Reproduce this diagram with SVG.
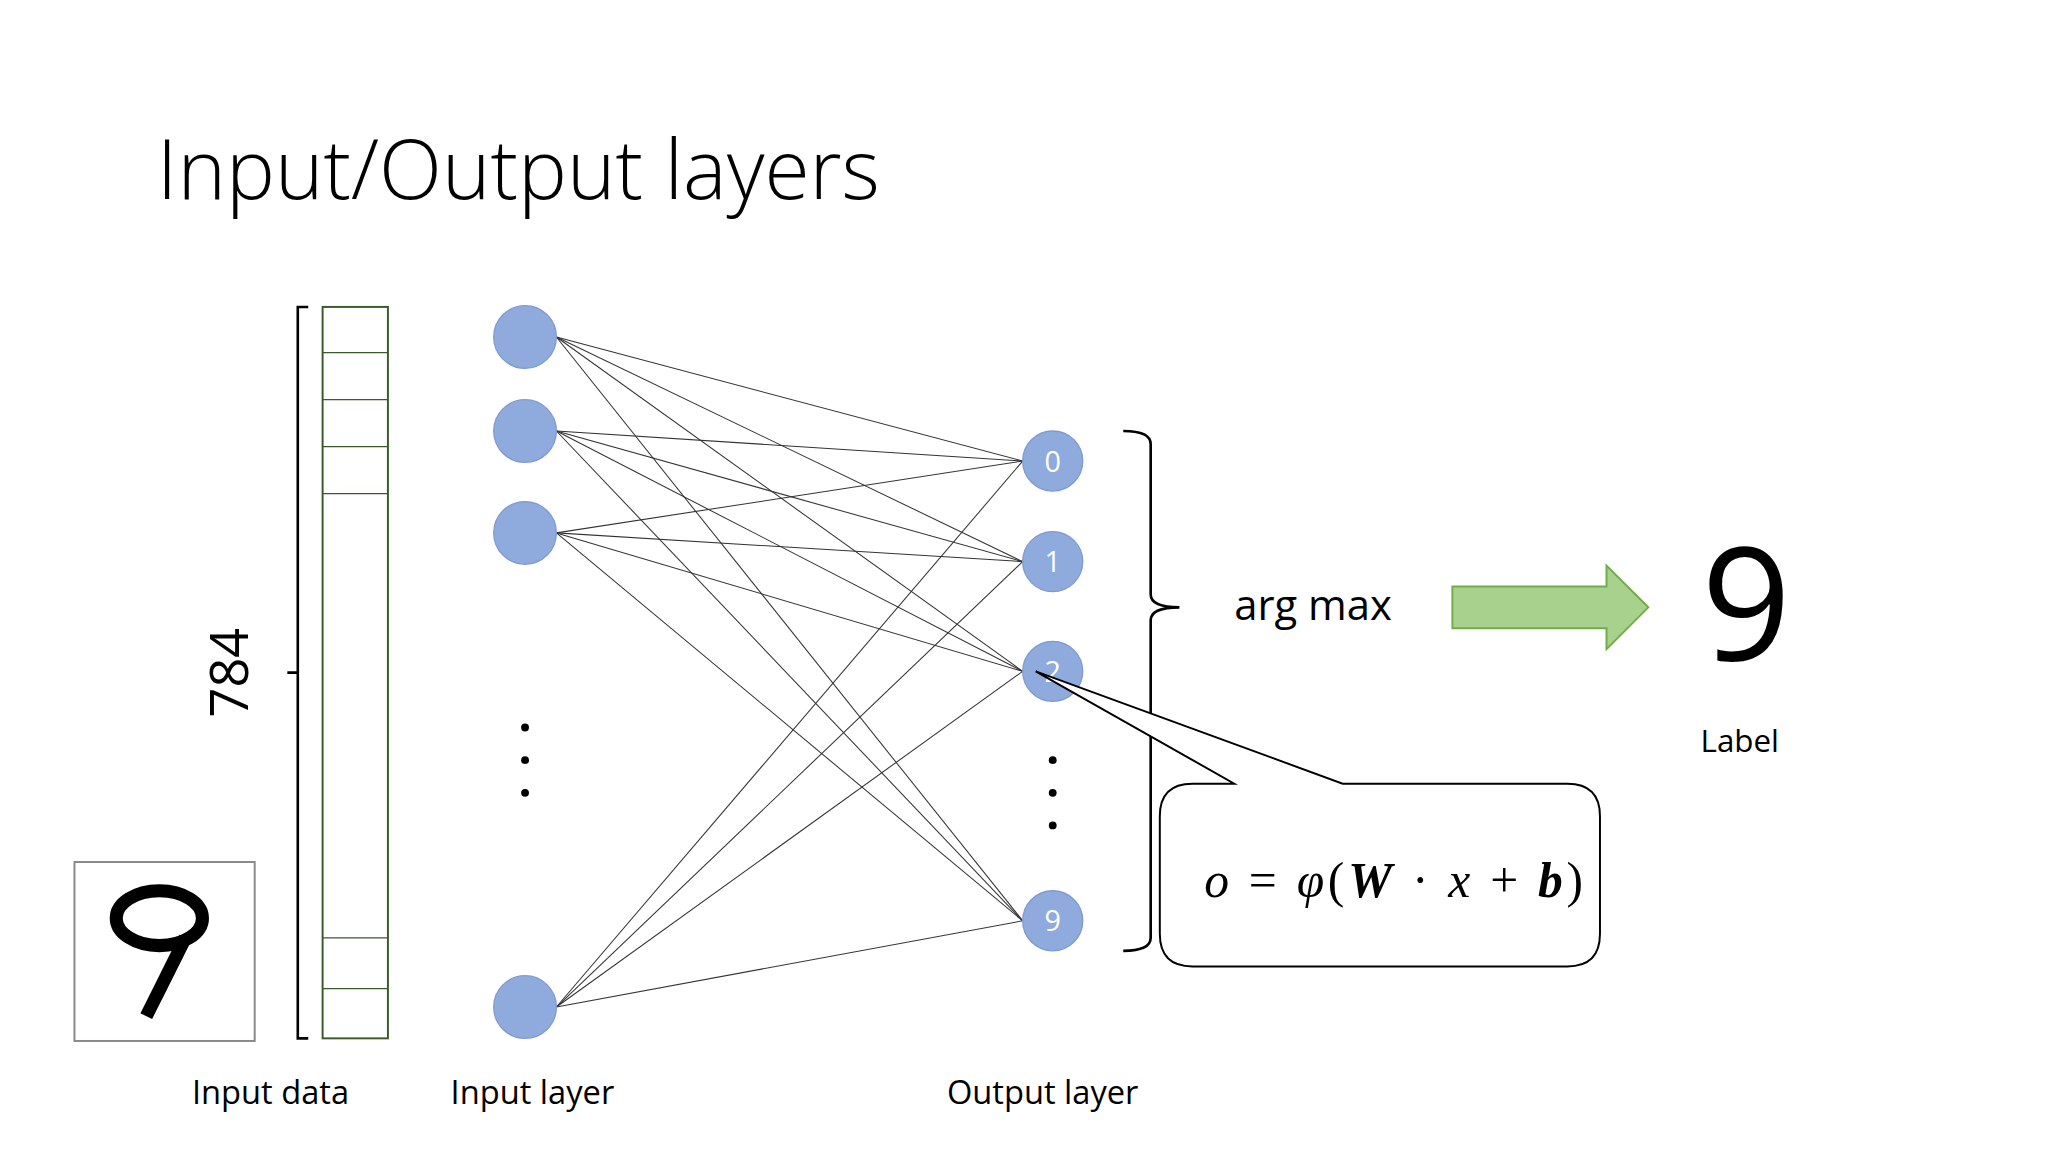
<svg xmlns="http://www.w3.org/2000/svg" width="2048" height="1152" viewBox="0 0 2048 1152">
<style>
.t{font-family:"Open Sans","Liberation Sans",sans-serif;fill:#000}
.in{fill:#8faadc;stroke:#7f9bd0;stroke-width:1}
.ol{font-family:"Open Sans","Liberation Sans",sans-serif;font-size:22px;fill:#fff;text-anchor:middle}
.c line{stroke:#333;stroke-width:0.8}
</style>
<rect width="2048" height="1152" fill="#fff"/>
<g transform="scale(1.3061)">
<text class="t" x="120" y="152" font-size="63" font-weight="300">Input/Output layers</text>
<g id="digit">
<rect x="57" y="660" width="138" height="137" fill="#fff" stroke="#888" stroke-width="1.5"/>
<ellipse cx="122" cy="703" rx="33" ry="21" fill="none" stroke="#000" stroke-width="10"/>
<path d="M142 718 L112 778" stroke="#000" stroke-width="10" fill="none"/>
</g>
<g id="bracket784" fill="none" stroke="#000" stroke-width="2">
<path d="M236 235 H228 V795 H236 M228 515 H220"/>
</g>
<text class="t" font-size="40" transform="translate(190,515) rotate(-90)" text-anchor="middle">784</text>
<g id="column" fill="none" stroke="#3a5a2a" stroke-width="1.5">
<rect x="247" y="235" width="50" height="560"/>
<path d="M247 270 H297 M247 306 H297 M247 342 H297 M247 378 H297 M247 718 H297 M247 757 H297" stroke-width="1"/>
</g>
<g id="connectors" class="c">
<line x1="426" y1="258" x2="783" y2="353"/><line x1="426" y1="258" x2="783" y2="430"/><line x1="426" y1="258" x2="783" y2="514"/><line x1="426" y1="258" x2="783" y2="705"/>
<line x1="426" y1="330" x2="783" y2="353"/><line x1="426" y1="330" x2="783" y2="430"/><line x1="426" y1="330" x2="783" y2="514"/><line x1="426" y1="330" x2="783" y2="705"/>
<line x1="426" y1="408" x2="783" y2="353"/><line x1="426" y1="408" x2="783" y2="430"/><line x1="426" y1="408" x2="783" y2="514"/><line x1="426" y1="408" x2="783" y2="705"/>
<line x1="426" y1="771" x2="783" y2="353"/><line x1="426" y1="771" x2="783" y2="430"/><line x1="426" y1="771" x2="783" y2="514"/><line x1="426" y1="771" x2="783" y2="705"/>
</g>
<g id="inputs">
<circle class="in" cx="402" cy="258" r="24"/><circle class="in" cx="402" cy="330" r="24"/><circle class="in" cx="402" cy="408" r="24"/><circle class="in" cx="402" cy="771" r="24"/>
<circle cx="402" cy="557" r="3"/><circle cx="402" cy="582" r="3"/><circle cx="402" cy="607" r="3"/>
</g>
<g id="outputs">
<circle class="in" cx="806" cy="353" r="23"/><text class="ol" x="806" y="361">0</text>
<circle class="in" cx="806" cy="430" r="23"/><text class="ol" x="806" y="438">1</text>
<circle class="in" cx="806" cy="514" r="23"/><text class="ol" x="806" y="522">2</text>
<circle class="in" cx="806" cy="705" r="23"/><text class="ol" x="806" y="713">9</text>
<circle cx="806" cy="582" r="3"/><circle cx="806" cy="607" r="3"/><circle cx="806" cy="632" r="3"/>
</g>
<g id="brace" fill="none" stroke="#000" stroke-width="2">
<path d="M860 330 Q881 330 881 340 V455 Q881 465 903 465 Q881 465 881 475 V718 Q881 728 860 728"/>
</g>
<text class="t" x="945" y="475" font-size="32">arg max</text>
<g id="arrow"><path d="M1112 449 H1230 V433 L1262 465 L1230 497 V481 H1112 Z" fill="#a9d18e" stroke="#70ad47" stroke-width="1.5"/></g>
<text class="t" x="1337" y="505" font-size="120" text-anchor="middle">9</text>
<text class="t" x="1302" y="576" font-size="24">Label</text>
<g id="callout">
<path d="M913 600 H945 L793 514 L1028 600 H1200 Q1225 600 1225 625 V715 Q1225 740 1200 740 H913 Q888 740 888 715 V625 Q888 600 913 600 Z" fill="#fff" stroke="#000" stroke-width="1.5"/>
<text x="922" y="687" font-size="38" textLength="290" font-family="'Liberation Serif','DejaVu Serif',serif"><tspan font-style="italic">o</tspan> = <tspan font-style="italic">φ</tspan>(<tspan font-weight="bold" font-style="italic">W</tspan> · <tspan font-style="italic">x</tspan> + <tspan font-weight="bold" font-style="italic">b</tspan>)</text>
</g>
<text class="t" x="147" y="845" font-size="25">Input data</text>
<text class="t" x="345" y="845" font-size="25">Input layer</text>
<text class="t" x="725" y="845" font-size="25">Output layer</text>
</g>
</svg>
